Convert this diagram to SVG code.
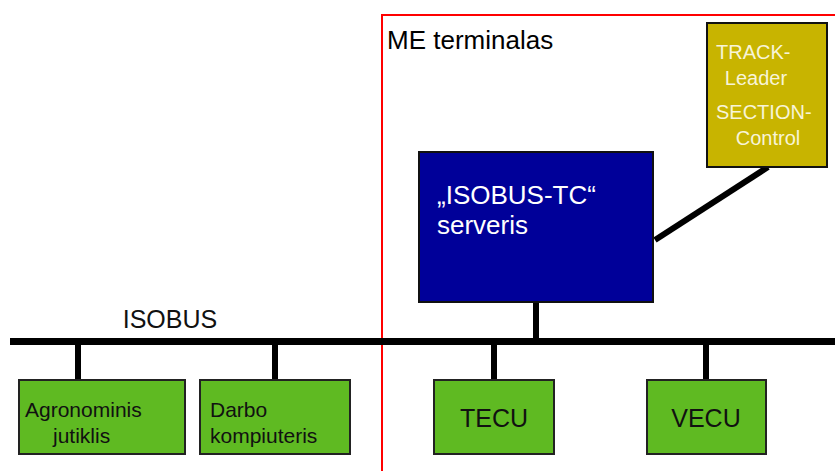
<svg xmlns="http://www.w3.org/2000/svg" width="835" height="471" viewBox="0 0 835 471">
<style>
text{font-family:"Liberation Sans",Arial,sans-serif}
.g{fill:#5fba22;stroke:#222;stroke-width:2}
.gt{font-size:21px;fill:#111}
.big{font-size:25px;fill:#111}
.w{fill:#fff;font-size:26px}
.y{fill:#f8f4d8;font-size:20px}
.ln{stroke:#000;fill:none}
</style>
<rect width="835" height="471" fill="#fff"/>
<g id="frame"><rect x="382" y="15" width="470" height="480" fill="none" stroke="#f00" stroke-width="2"/>
<text x="387" y="49" style="font-size:26px" fill="#000">ME terminalas</text></g>
<g id="connectors">
<line class="ln" x1="10" y1="341.5" x2="835" y2="341.5" stroke-width="7"/>
<line class="ln" x1="78" y1="341" x2="78" y2="380" stroke-width="6"/>
<line class="ln" x1="275" y1="341" x2="275" y2="380" stroke-width="6"/>
<line class="ln" x1="536" y1="302" x2="536" y2="341" stroke-width="6"/>
<line class="ln" x1="494" y1="341" x2="494" y2="380" stroke-width="6"/>
<line class="ln" x1="706" y1="341" x2="706" y2="380" stroke-width="6"/>
<line class="ln" x1="655" y1="240" x2="768" y2="167" stroke-width="6"/>
</g>
<text x="170" y="328" text-anchor="middle" style="font-size:25px" fill="#111">ISOBUS</text>
<g id="tc"><rect x="419" y="152" width="234" height="150" fill="#000099" stroke="#111" stroke-width="2"/>
<text x="437" y="204" class="w">„ISOBUS-TC“</text>
<text x="437" y="234" class="w">serveris</text></g>
<g id="track"><rect x="707" y="23" width="120" height="144" fill="#c8b400" stroke="#111" stroke-width="2"/>
<text x="716" y="59" class="y">TRACK-</text>
<text x="756" y="85" class="y" text-anchor="middle">Leader</text>
<text x="716" y="119" class="y">SECTION-</text>
<text x="768" y="145" class="y" text-anchor="middle">Control</text></g>
<g id="agro"><rect x="19" y="380" width="166" height="74" class="g"/>
<text x="25" y="417" class="gt">Agronominis</text>
<text x="53" y="443" class="gt">jutiklis</text></g>
<g id="darbo"><rect x="200" y="380" width="150" height="74" class="g"/>
<text x="210" y="417" class="gt">Darbo</text>
<text x="210" y="443" class="gt">kompiuteris</text></g>
<g id="tecu"><rect x="434" y="380" width="120" height="74" class="g"/>
<text x="494" y="427" class="big" text-anchor="middle">TECU</text></g>
<g id="vecu"><rect x="647" y="380" width="119" height="74" class="g"/>
<text x="706" y="427" class="big" text-anchor="middle">VECU</text></g>
</svg>
